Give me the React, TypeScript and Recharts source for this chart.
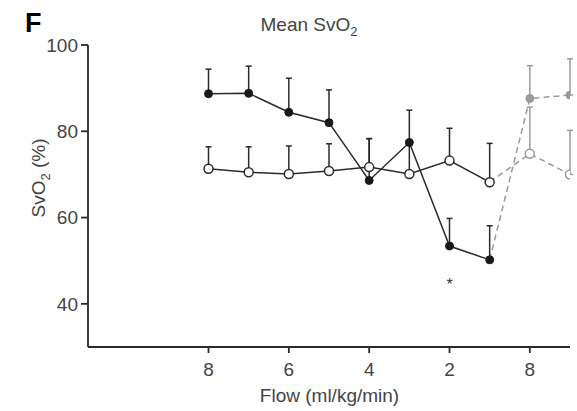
import React from "react";
import {
  ComposedChart,
  Line,
  XAxis,
  YAxis,
  ErrorBar,
  ReferenceDot,
  Customized,
} from "recharts";

// Flow steps (ml/kg/min); last two are the recovery phase
const flowLabels = ["8", "7", "6", "5", "4", "3", "2", "1", "8", "8"];
const tickIndices = [0, 2, 4, 6, 8];
const yTicks = [40, 60, 80, 100];

// Filled-circle group (mean and upward SD)
const closedMean = [88.7, 88.8, 84.4, 82.0, 68.6, 77.4, 53.4, 50.2];
const closedSD = [5.7, 6.3, 7.9, 7.6, 9.7, 7.5, 6.4, 7.9];
const closedRecMean = [87.6, 88.4];
const closedRecSD = [7.6, 8.4];

// Open-circle group
const openMean = [71.3, 70.5, 70.1, 70.8, 71.7, 70.1, 73.2, 68.2];
const openSD = [5.1, 5.9, 6.5, 6.3, 6.6, 7.5, 7.5, 9.0];
const openRecMean = [74.8, 70.0];
const openRecSD = [10.8, 10.2];

const nMain = closedMean.length;

const data = flowLabels.map((_, i) => {
  const row: any = { x: i };
  if (i < nMain) {
    row.closed = closedMean[i];
    row.closedErr = [0, closedSD[i]];
    row.open = openMean[i];
    row.openErr = [0, openSD[i]];
  }
  if (i === nMain - 1) {
    row.closedRecLine = closedMean[i];
    row.openRecLine = openMean[i];
  }
  if (i >= nMain) {
    const j = i - nMain;
    row.closedRecLine = closedRecMean[j];
    row.openRecLine = openRecMean[j];
    row.closedRec = closedRecMean[j];
    row.closedRecErr = [0, closedRecSD[j]];
    row.openRec = openRecMean[j];
    row.openRecErr = [0, openRecSD[j]];
  }
  return row;
});

const FONT = "'Liberation Sans', Arial, Helvetica, sans-serif";
const DARK = "#2a2a2a";
const GRAY = "#9a9a9a";
const TEXT = "#444";

const Texts = () => (
  <g fontFamily={FONT}>
    <text x={25} y={32} fontSize={27} fontWeight="bold" fill="#000">F</text>
    <text x={309} y={31} fontSize={19} fill={TEXT} textAnchor="middle">
      Mean SvO<tspan fontSize={13} dy={5}>2</tspan>
    </text>
    <text
      x={0}
      y={0}
      fontSize={19}
      fill={TEXT}
      textAnchor="middle"
      transform="translate(45,178) rotate(-90)"
    >
      SvO<tspan fontSize={13} dy={5}>2</tspan>
      <tspan dy={-5}> (%)</tspan>
    </text>
    <text x={329.5} y={402} fontSize={19} fill={TEXT} textAnchor="middle">
      Flow (ml/kg/min)
    </text>
  </g>
);

export default function App() {
  return (
    <div style={{ position: "absolute", left: 0, top: 0, width: 577, height: 411, background: "#fff" }}>
      <ComposedChart
        width={577}
        height={411}
        data={data}
        margin={{ top: 45, right: 7, bottom: 34, left: 28 }}
      >
        <XAxis
          type="number"
          dataKey="x"
          domain={[-3, 9]}
          ticks={tickIndices}
          tickFormatter={(v: number) => flowLabels[v]}
          allowDataOverflow
          height={30}
          axisLine={{ stroke: DARK, strokeWidth: 1.8 }}
          tickLine={{ stroke: DARK, strokeWidth: 1.8 }}
          tickSize={6}
          tickMargin={10}
          tick={{ fill: TEXT, fontSize: 19, fontFamily: FONT }}
        />
        <YAxis
          type="number"
          domain={[30, 100]}
          ticks={yTicks}
          allowDataOverflow
          width={60}
          axisLine={{ stroke: DARK, strokeWidth: 1.8 }}
          tickLine={{ stroke: DARK, strokeWidth: 1.8 }}
          tickSize={7}
          tickMargin={3}
          tick={{ fill: TEXT, fontSize: 19, fontFamily: FONT }}
        />
        <Line
          dataKey="closedRecLine"
          stroke={GRAY}
          strokeWidth={1.5}
          strokeDasharray="6 4"
          dot={false}
          activeDot={false}
          isAnimationActive={false}
        />
        <Line
          dataKey="openRecLine"
          stroke={GRAY}
          strokeWidth={1.5}
          strokeDasharray="6 4"
          dot={false}
          activeDot={false}
          isAnimationActive={false}
        />
        <Line
          dataKey="closedRec"
          stroke="none"
          dot={{ r: 4, fill: GRAY, stroke: GRAY, strokeWidth: 1 }}
          isAnimationActive={false}
        >
          <ErrorBar dataKey="closedRecErr" direction="y" width={3} stroke={GRAY} strokeWidth={1.5} />
        </Line>
        <Line
          dataKey="openRec"
          stroke="none"
          dot={{ r: 4.5, fill: "#fff", stroke: GRAY, strokeWidth: 1.5 }}
          isAnimationActive={false}
        >
          <ErrorBar dataKey="openRecErr" direction="y" width={3} stroke={GRAY} strokeWidth={1.5} />
        </Line>
        <Line
          dataKey="closed"
          stroke={DARK}
          strokeWidth={1.5}
          dot={{ r: 4, fill: "#1a1a1a", stroke: "#1a1a1a", strokeWidth: 1 }}
          isAnimationActive={false}
        >
          <ErrorBar dataKey="closedErr" direction="y" width={3} stroke={DARK} strokeWidth={1.5} />
        </Line>
        <Line
          dataKey="open"
          stroke={DARK}
          strokeWidth={1.5}
          dot={{ r: 4.5, fill: "#fff", stroke: DARK, strokeWidth: 1.5 }}
          isAnimationActive={false}
        >
          <ErrorBar dataKey="openErr" direction="y" width={3} stroke={DARK} strokeWidth={1.5} />
        </Line>
        <ReferenceDot
          x={6}
          y={45}
          r={0}
          shape={(p: any) => (
            <text x={p.cx} y={p.cy + 8} textAnchor="middle" fontSize={16} fill="#333" fontFamily={FONT}>
              *
            </text>
          )}
        />
        <Customized component={Texts} />
      </ComposedChart>
    </div>
  );
}
